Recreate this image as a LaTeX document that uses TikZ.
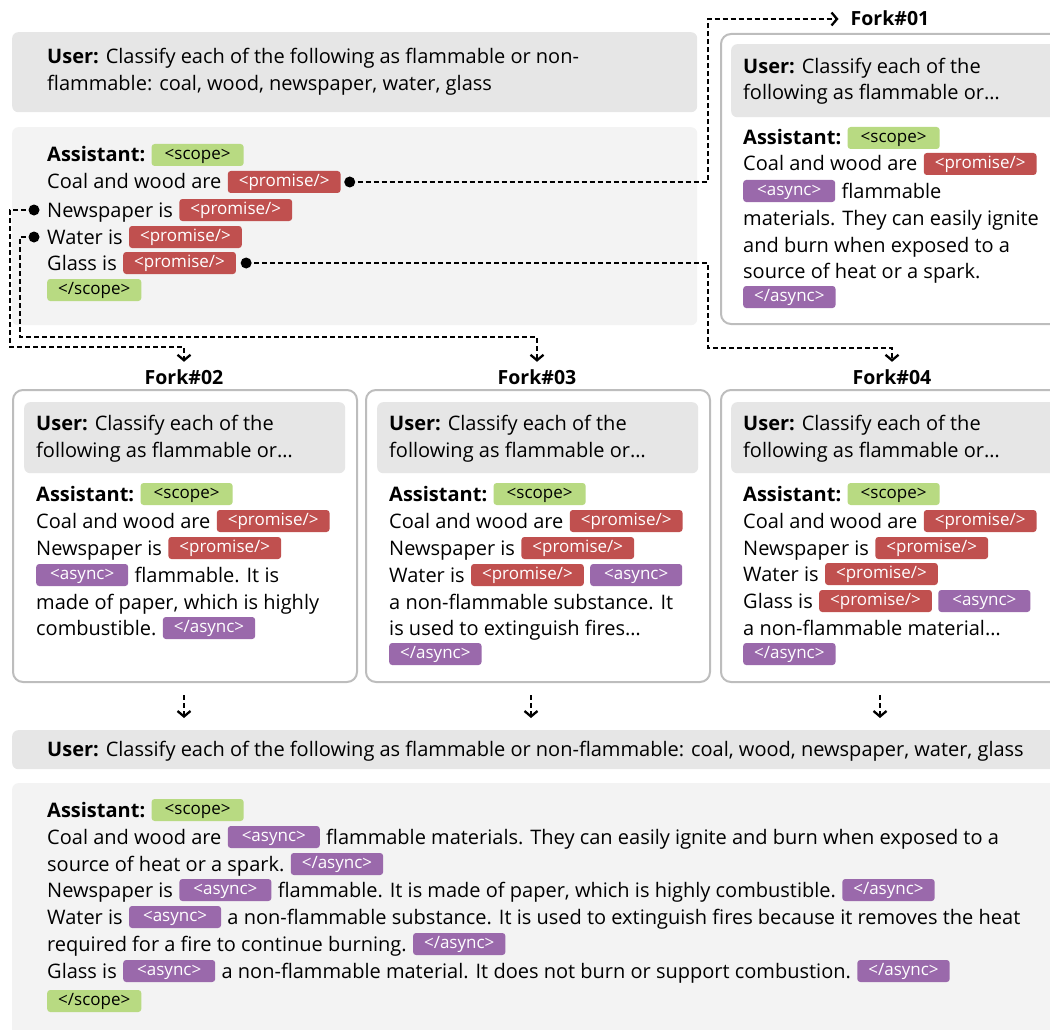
\documentclass[tikz,border=0pt]{standalone}
\usepackage{fontspec}
\setmainfont{Open Sans}
\usetikzlibrary{arrows.meta}
\definecolor{scopegreen}{HTML}{B8DA82}
\definecolor{promred}{HTML}{C0504F}
\definecolor{asyncpurple}{HTML}{9A69AB}
\definecolor{usergray}{HTML}{E6E6E6}
\definecolor{asstgray}{HTML}{F3F3F3}
\definecolor{forkborder}{HTML}{BDBDBD}
\begin{document}
\begin{tikzpicture}[x=1pt,y=-1pt,
 txt/.style={inner sep=0pt, anchor=west, text height=14pt, text depth=0pt, font=\fontsize{20}{27}\selectfont},
 tagb/.style={rounded corners=3pt, anchor=west, inner xsep=11pt, inner ysep=0pt, minimum height=22pt, minimum width=92pt, text height=12.5pt, text depth=3.5pt, font=\fontsize{17}{19}\selectfont},
 scopetag/.style={tagb, fill=scopegreen, text=black},
 promtag/.style={tagb, fill=promred, text=white},
 asynctag/.style={tagb, fill=asyncpurple, text=white},
 nx/.style={at={([xshift=6pt]#1.east)}},
 userbox/.style={fill=usergray, rounded corners=6pt, anchor=north west, inner sep=0pt},
 asstbox/.style={fill=asstgray, rounded corners=6pt, anchor=north west, inner sep=0pt},
 forkbox/.style={draw=forkborder, line width=2pt, rounded corners=10pt, fill=white, anchor=north west, inner sep=0pt},
 forklbl/.style={font=\bfseries\fontsize{19.5}{21}\selectfont, inner sep=0pt, text height=14pt, text depth=0pt},
 conn/.style={line width=2.3pt, dash pattern=on 5pt off 3pt},
 tip/.style={-{Straight Barb[length=5.5pt,width=13pt]}},
 dotn/.style={circle, fill=black, inner sep=0pt, minimum size=11pt},
]
\useasboundingbox (0,0) rectangle (1050,1030);

% ---------- top user box ----------
\node[userbox, minimum width=685pt, minimum height=80pt] (u0) at (12,32) {};
\node[txt] (u0a) at (47,57) {\textbf{User:} Classify each of the following as flammable or non-};
\node[txt] (u0b) at (47,84) {flammable: coal, wood, newspaper, water, glass};

% ---------- main assistant box ----------
\node[asstbox, minimum width=685pt, minimum height=198pt] (a0) at (12,127) {};
\node[txt] (a0l1) at (47,155) {\textbf{Assistant:}};
\node[scopetag, nx=a0l1] (a0s) {<scope>};
\node[txt] (a0l2) at (47,182) {Coal and wood are};
\node[promtag, nx=a0l2] (p1) {<promise/>};
\node[txt] (a0l3) at (47,210) {Newspaper is};
\node[promtag, nx=a0l3] (p2) {<promise/>};
\node[txt] (a0l4) at (47,237) {Water is};
\node[promtag, nx=a0l4] (p3) {<promise/>};
\node[txt] (a0l5) at (47,263) {Glass is};
\node[promtag, nx=a0l5] (p4) {<promise/>};
\node[scopetag] (a0e) at (47,290) {</scope>};

% ---------- fork labels ----------
\node[forklbl] (f1l) at (890,19) {Fork\#01};
\node[forklbl] (f2l) at (184,377) {Fork\#02};
\node[forklbl] (f3l) at (537,377) {Fork\#03};
\node[forklbl] (f4l) at (892,377) {Fork\#04};

% ---------- Fork 01 ----------
\node[forkbox, minimum width=345pt, minimum height=290pt] (f1) at (720,33) {};
\node[userbox, minimum width=330pt, minimum height=73pt] (f1u) at (731,44) {};
\node[txt] (f1a) at (743,67) {\textbf{User:} Classify each of the};
\node[txt] (f1b) at (743,93) {following as flammable or…};
\node[txt] (f1c) at (743,138) {\textbf{Assistant:}};
\node[scopetag, nx=f1c] (f1cs) {<scope>};
\node[txt] (f1d) at (743,164) {Coal and wood are};
\node[promtag, nx=f1d] (f1dp) {<promise/>};
\node[asynctag] (f1ea) at (743,191) {<async>};
\node[txt, nx=f1ea] (f1e) {flammable};
\node[txt] (f1f) at (743,218) {materials. They can easily ignite};
\node[txt] (f1g) at (743,245) {and burn when exposed to a};
\node[txt] (f1h) at (743,271) {source of heat or a spark.};
\node[asynctag] (f1i) at (743,297) {</async>};

% ---------- Fork 02 ----------
\node[forkbox, minimum width=344pt, minimum height=292pt] (f2) at (12,389) {};
\node[userbox, minimum width=321pt, minimum height=71pt] (f2u) at (24,402) {};
\node[txt] (f2a) at (36,423) {\textbf{User:} Classify each of the};
\node[txt] (f2b) at (36,450) {following as flammable or…};
\node[txt] (f2c) at (36,494) {\textbf{Assistant:}};
\node[scopetag, nx=f2c] (f2cs) {<scope>};
\node[txt] (f2d) at (36,521) {Coal and wood are};
\node[promtag, nx=f2d] (f2dp) {<promise/>};
\node[txt] (f2e) at (36,548) {Newspaper is};
\node[promtag, nx=f2e] (f2ep) {<promise/>};
\node[asynctag] (f2fa) at (36,575) {<async>};
\node[txt, nx=f2fa] (f2f) {flammable. It is};
\node[txt] (f2g) at (36,602) {made of paper, which is highly};
\node[txt] (f2h) at (36,628) {combustible.};
\node[asynctag, nx=f2h] (f2ha) {</async>};

% ---------- Fork 03 ----------
\node[forkbox, minimum width=344pt, minimum height=292pt] (f3) at (365,389) {};
\node[userbox, minimum width=321pt, minimum height=71pt] (f3u) at (377,402) {};
\node[txt] (f3a) at (389,423) {\textbf{User:} Classify each of the};
\node[txt] (f3b) at (389,450) {following as flammable or…};
\node[txt] (f3c) at (389,494) {\textbf{Assistant:}};
\node[scopetag, nx=f3c] (f3cs) {<scope>};
\node[txt] (f3d) at (389,521) {Coal and wood are};
\node[promtag, nx=f3d] (f3dp) {<promise/>};
\node[txt] (f3e) at (389,548) {Newspaper is};
\node[promtag, nx=f3e] (f3ep) {<promise/>};
\node[txt] (f3f) at (389,575) {Water is};
\node[promtag, nx=f3f] (f3fp) {<promise/>};
\node[asynctag, nx=f3fp] (f3fa) {<async>};
\node[txt] (f3g) at (389,602) {a non-flammable substance. It};
\node[txt] (f3h) at (389,628) {is used to extinguish fires…};
\node[asynctag] (f3i) at (389,654) {</async>};

% ---------- Fork 04 ----------
\node[forkbox, minimum width=345pt, minimum height=292pt] (f4) at (720,389) {};
\node[userbox, minimum width=330pt, minimum height=71pt] (f4u) at (731,402) {};
\node[txt] (f4a) at (743,423) {\textbf{User:} Classify each of the};
\node[txt] (f4b) at (743,450) {following as flammable or…};
\node[txt] (f4c) at (743,494) {\textbf{Assistant:}};
\node[scopetag, nx=f4c] (f4cs) {<scope>};
\node[txt] (f4d) at (743,521) {Coal and wood are};
\node[promtag, nx=f4d] (f4dp) {<promise/>};
\node[txt] (f4e) at (743,548) {Newspaper is};
\node[promtag, nx=f4e] (f4ep) {<promise/>};
\node[txt] (f4f) at (743,574) {Water is};
\node[promtag, nx=f4f] (f4fp) {<promise/>};
\node[txt] (f4g) at (743,601) {Glass is};
\node[promtag, nx=f4g] (f4gp) {<promise/>};
\node[asynctag, nx=f4gp] (f4ga) {<async>};
\node[txt] (f4h) at (743,628) {a non-flammable material…};
\node[asynctag] (f4i) at (743,654) {</async>};

% ---------- bottom boxes ----------
\node[userbox, minimum width=1050pt, minimum height=39pt] (ub) at (12,730) {};
\node[txt] (uba) at (47,749) {\textbf{User:} Classify each of the following as flammable or non-flammable: coal, wood, newspaper, water, glass};
\node[asstbox, minimum width=1050pt, minimum height=260pt] (ab) at (12,783) {};
\node[txt] (ab1) at (47,810) {\textbf{Assistant:}};
\node[scopetag, nx=ab1] (ab1s) {<scope>};
\node[txt] (ab2) at (47,837) {Coal and wood are};
\node[asynctag, nx=ab2] (ab2a) {<async>};
\node[txt, nx=ab2a] (ab2b) {flammable materials. They can easily ignite and burn when exposed to a};
\node[txt] (ab3) at (47,864) {source of heat or a spark.};
\node[asynctag, nx=ab3] (ab3a) {</async>};
\node[txt] (ab4) at (47,890) {Newspaper is};
\node[asynctag, nx=ab4] (ab4a) {<async>};
\node[txt, nx=ab4a] (ab4b) {flammable. It is made of paper, which is highly combustible.};
\node[asynctag, nx=ab4b] (ab4c) {</async>};
\node[txt] (ab5) at (47,917) {Water is};
\node[asynctag, nx=ab5] (ab5a) {<async>};
\node[txt, nx=ab5a] (ab5b) {a non-flammable substance. It is used to extinguish fires because it removes the heat};
\node[txt] (ab6) at (47,944) {required for a fire to continue burning.};
\node[asynctag, nx=ab6] (ab6a) {</async>};
\node[txt] (ab7) at (47,971) {Glass is};
\node[asynctag, nx=ab7] (ab7a) {<async>};
\node[txt, nx=ab7a] (ab7b) {a non-flammable material. It does not burn or support combustion.};
\node[asynctag, nx=ab7b] (ab7c) {</async>};
\node[scopetag] (ab8) at (47,1001) {</scope>};

% ---------- connectors ----------
\coordinate (k1) at (708,19);
\coordinate (k2a) at (10,347);
\coordinate (k2) at (184,347);
\coordinate (k3a) at (20,337);
\coordinate (k3) at (537,337);
\coordinate (k4a) at (708,348);
\coordinate (k4) at (892,348);
\draw[conn, tip, shorten >=12pt] (p1.east) ++(9pt,0pt) coordinate (s1) -| (k1) -- (f1l.west);
\draw[conn, tip, shorten >=8pt] (a0l3.west) ++(-13pt,0pt) coordinate (s2) -| (k2a) -- (k2) -- (f2l.north);
\draw[conn, tip, shorten >=8pt] (a0l4.west) ++(-13pt,0pt) coordinate (s3) -| (k3a) -- (k3) -- (f3l.north);
\draw[conn, tip, shorten >=8pt] (p4.east) ++(10pt,0pt) coordinate (s4) -| (k4a) -- (k4) -- (f4l.north);
\node[dotn] (d1) at (s1) {};
\node[dotn] (d2) at (s2) {};
\node[dotn] (d3) at (s3) {};
\node[dotn] (d4) at (s4) {};

\coordinate (b1) at (184,695);
\coordinate (b2) at (531,695);
\coordinate (b3) at (880,695);
\draw[conn, tip, shorten >=12pt] (b1) -- (b1 |- ub.north);
\draw[conn, tip, shorten >=12pt] (b2) -- (b2 |- ub.north);
\draw[conn, tip, shorten >=12pt] (b3) -- (b3 |- ub.north);
\end{tikzpicture}
\end{document}
